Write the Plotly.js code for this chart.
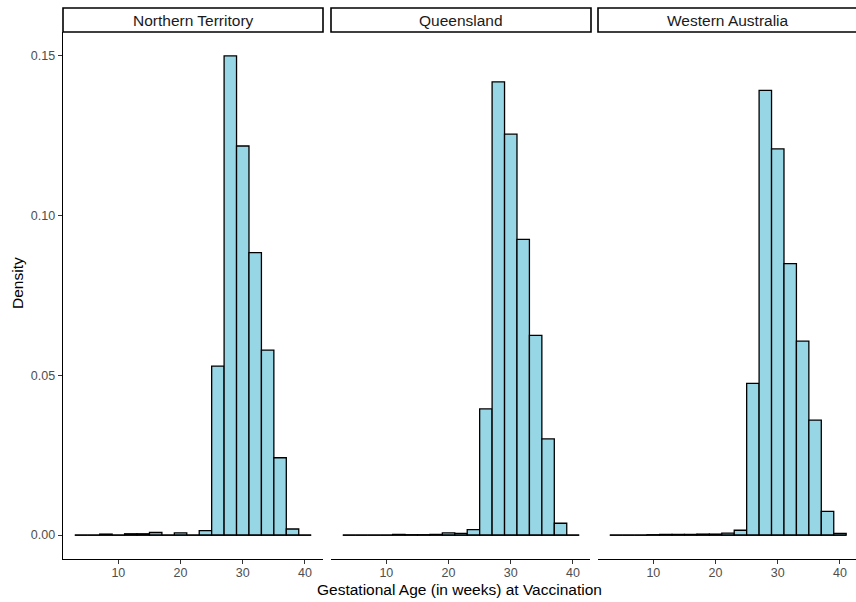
<!DOCTYPE html>
<html>
<head>
<meta charset="utf-8">
<script src="https://cdn.plot.ly/plotly-3.0.1.min.js"></script>
<style>html,body{margin:0;padding:0;background:#fff;}#chart{width:856px;height:602px;}</style>
</head>
<body>
<div id="chart"></div>
<script>
// ---- data ----
const panelNames = ["Northern Territory", "Queensland", "Western Australia"];
const binCenters = [4, 6, 8, 10, 12, 14, 16, 18, 20, 22, 24, 26, 28, 30, 32, 34, 36, 38, 40];
const binWidth = 2;
const ntDensity  = [0, 0, 0.0003, 0, 0.0004, 0.0004, 0.0008, 0, 0.0007, 0, 0.0014, 0.0529, 0.1500, 0.1218, 0.0884, 0.0579, 0.0242, 0.0019, 0];
const qldDensity = [0, 0, 0, 0, 0.0002, 0.0001, 0.0001, 0.0002, 0.0007, 0.0005, 0.0017, 0.0395, 0.1419, 0.1255, 0.0926, 0.0625, 0.0301, 0.0037, 0];
const waDensity  = [0, 0, 0, 0.0001, 0.0002, 0.0002, 0.0002, 0.0003, 0.0003, 0.0006, 0.0015, 0.0475, 0.1392, 0.1209, 0.0850, 0.0607, 0.0360, 0.0074, 0.0005];
const xTicks = [10, 20, 30, 40];
const yTicks = [0, 0.05, 0.10, 0.15];
const yTickText = ["0.00", "0.05", "0.10", "0.15"];
const xTitle = "Gestational Age (in weeks) at Vaccination";
const yTitle = "Density";

// ---- layout geometry ----
const W = 856, H = 602;
const mL = 63, mR = 0, mT = 32, mB = 43;
const plotW = W - mL - mR, plotH = H - mT - mB;
const panelPx = [[63, 323], [331, 590], [598, 856]];
const doms = panelPx.map(p => [(p[0] - mL) / plotW, (p[1] - mL) / plotW]);
const xLo = 1.1, xHi = 42.9;
const pxPerUnit = 260 / (xHi - xLo);
const ranges = panelPx.map(p => [xLo, xLo + (p[1] - p[0]) / pxPerUnit]);

const FONT = "Liberation Sans, Arial, sans-serif";
const fill = "#97D6E4";
const series = [ntDensity, qldDensity, waDensity];
const axIds = ["x", "x2", "x3"];

const traces = [];
series.forEach((vals, i) => {
  const edgeLo = binCenters[0] - binWidth / 2;
  const edgeHi = binCenters[binCenters.length - 1] + binWidth / 2;
  traces.push({
    type: "bar", x: binCenters, y: vals, width: binWidth,
    xaxis: axIds[i], yaxis: "y",
    marker: {color: fill, line: {color: "#000", width: 1.3}},
    hoverinfo: "skip", showlegend: false
  });
  traces.push({
    type: "scatter", mode: "lines", x: [edgeLo, edgeHi], y: [0, 0],
    xaxis: axIds[i], yaxis: "y",
    line: {color: "#000", width: 1.3},
    hoverinfo: "skip", showlegend: false
  });
});

function xAxis(i) {
  return {
    domain: doms[i], range: ranges[i], anchor: "y",
    tickvals: xTicks, ticks: "outside", ticklen: 4, tickwidth: 1, tickcolor: "#333",
    ticklabelstandoff: -2,
    showline: true, linecolor: "#000", linewidth: 1.3,
    showgrid: false, zeroline: false, fixedrange: true,
    tickfont: {family: FONT, size: 12.5, color: "#4D4D4D"}
  };
}

const shapes = [], annotations = [];
panelNames.forEach((name, i) => {
  const ref = axIds[i] + " domain";
  const frac = 260 / (panelPx[i][1] - panelPx[i][0]);
  shapes.push({
    type: "rect", xref: ref, yref: "paper",
    x0: 0, x1: frac, y0: 1, y1: 1 + 24 / plotH,
    line: {color: "#000", width: 1.6}, fillcolor: "#fff", layer: "above"
  });
  annotations.push({
    text: name, xref: ref, yref: "paper",
    x: 0.5 * frac, y: 1 + 12 / plotH, xanchor: "center", yanchor: "middle",
    showarrow: false, font: {family: FONT, size: 15.5, color: "#1A1A1A"}
  });
});
annotations.push({
  text: xTitle, xref: "paper", yref: "paper",
  x: 0.5, y: -(589.5 - (H - mB)) / plotH, xanchor: "center", yanchor: "middle",
  showarrow: false, font: {family: FONT, size: 15.5, color: "#000"}
});
annotations.push({
  text: yTitle, xref: "paper", yref: "paper", textangle: -90,
  x: (17 - mL) / plotW, y: ((H - mB) - 283) / plotH, xanchor: "center", yanchor: "middle",
  showarrow: false, font: {family: FONT, size: 15.5, color: "#000"}
});

const layout = {
  width: W, height: H,
  margin: {l: mL, r: mR, t: mT, b: mB, pad: 0},
  paper_bgcolor: "#fff", plot_bgcolor: "#fff",
  showlegend: false, bargap: 0,
  xaxis: xAxis(0), xaxis2: xAxis(1), xaxis3: xAxis(2),
  yaxis: {
    domain: [0, 1], range: [-0.0075, 0.1575], anchor: "x",
    tickvals: yTicks, ticktext: yTickText, ticks: "outside", ticklen: 4, tickwidth: 1, tickcolor: "#333",
    showline: true, linecolor: "#000", linewidth: 1.3,
    showgrid: false, zeroline: false, fixedrange: true,
    tickfont: {family: FONT, size: 12.5, color: "#4D4D4D"}
  },
  shapes: shapes, annotations: annotations
};

Plotly.newPlot("chart", traces, layout, {staticPlot: true, displayModeBar: false});
</script>
</body>
</html>
